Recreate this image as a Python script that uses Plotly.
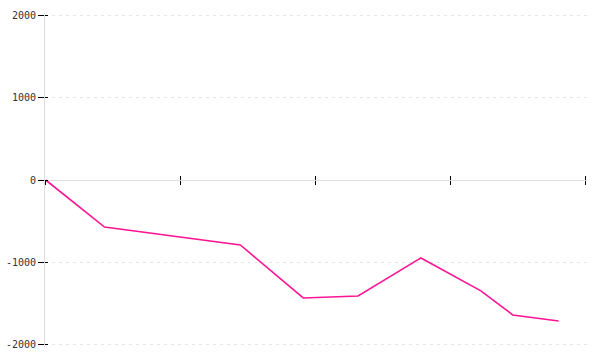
import plotly.graph_objects as go

x_values = [0, 4.36, 14.42, 19.08, 23.14, 27.80, 32.24, 34.60, 38.00]
y_values = [0, -570, -788, -1430, -1406, -945, -1345, -1636, -1709]
x_ticks = [0, 10, 20, 30, 40]
y_ticks = [-2000, -1000, 0, 1000, 2000]
y_tick_labels = ["-2000", "-1000", "0", "1000", "2000"]

fig = go.Figure()
fig.add_trace(go.Scatter(x=x_values, y=y_values, mode="lines",
                         line=dict(color="#ff1493", width=1.6),
                         showlegend=False, hoverinfo="skip"))
# helper trace so overlay axes are drawn
fig.add_trace(go.Scatter(x=x_values, y=y_values, xaxis="x2", yaxis="y2",
                         mode="lines", opacity=0, showlegend=False,
                         hoverinfo="skip"))

font = dict(family="DejaVu Sans Mono", size=10, color="#333")
xr = [-0.05, 40.1]
yr = [-2025, 2025]
fig.update_layout(
    width=600, height=360,
    margin=dict(l=45, r=13, t=13, b=13, autoexpand=False),
    paper_bgcolor="white", plot_bgcolor="white",
    font=font,
    xaxis=dict(range=xr, tickvals=x_ticks, showticklabels=False,
               ticks="outside", ticklen=4, tickcolor="#000", tickwidth=1,
               showgrid=False, zeroline=False, showline=True,
               linecolor="#dddddd", linewidth=1, automargin=False,
               anchor="free", position=0.5),
    xaxis2=dict(range=xr, matches="x", overlaying="x", tickvals=x_ticks,
                showticklabels=False, ticks="inside", ticklen=4,
                tickcolor="#000", tickwidth=1, showgrid=False, zeroline=False,
                showline=False, automargin=False, anchor="free", position=0.5),
    yaxis=dict(range=yr, tickvals=y_ticks, ticktext=y_tick_labels,
               ticks="outside", ticklen=6, tickcolor="#000", tickwidth=1,
               showgrid=True, gridcolor="#e6e6e6", griddash="3px,4px",
               gridwidth=1, zeroline=False, showline=True, automargin=False,
               linecolor="#dddddd", linewidth=1, tickfont=font),
    yaxis2=dict(range=yr, matches="y", overlaying="y", side="left",
                anchor="x", tickvals=y_ticks, showticklabels=False,
                ticks="inside", ticklen=3, tickcolor="#000", tickwidth=1,
                showgrid=False, zeroline=False, showline=False,
                automargin=False),
)

fig.write_html("out.html")
